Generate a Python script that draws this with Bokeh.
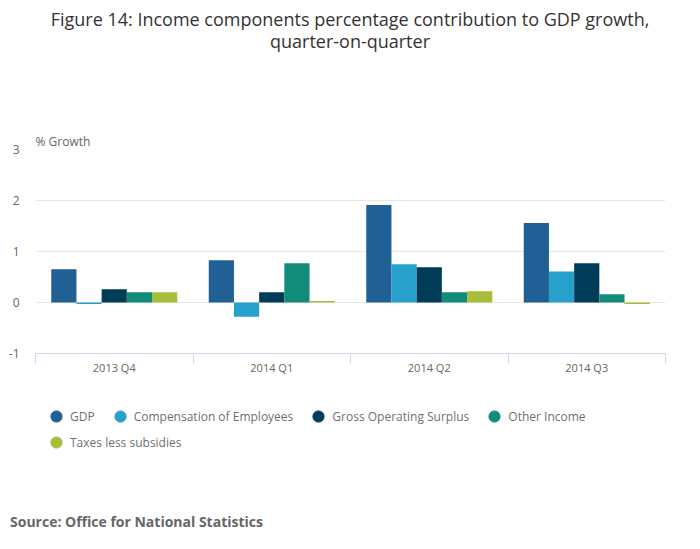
from bokeh.plotting import figure
from bokeh.layouts import column
from bokeh.models import (ColumnDataSource, Div, FixedTicker, Legend,
                          LegendItem, Range1d, Title)
from bokeh.transform import dodge
from bokeh.embed import file_html
from bokeh.resources import INLINE

# data
quarters = ["2013 Q4", "2014 Q1", "2014 Q2", "2014 Q3"]
gdp = [0.65, 0.83, 1.91, 1.56]
compensation = [-0.03, -0.28, 0.75, 0.61]
operating_surplus = [0.26, 0.20, 0.69, 0.77]
other_income = [0.20, 0.77, 0.20, 0.16]
taxes = [0.20, 0.03, 0.22, -0.03]
y_ticks = [-1, 0, 1, 2, 3]

series = [
    ("gdp", "GDP", "#206095"),
    ("compensation", "Compensation of Employees", "#27a0cc"),
    ("operating_surplus", "Gross Operating Surplus", "#003c57"),
    ("other_income", "Other Income", "#118c7b"),
    ("taxes", "Taxes less subsidies", "#a8bd3a"),
]

FONT = "Open Sans"
W = 700
centers = [i + 0.5 for i in range(len(quarters))]
source = ColumnDataSource(data=dict(
    x=centers, gdp=gdp, compensation=compensation,
    operating_surplus=operating_surplus, other_income=other_income,
    taxes=taxes,
))

title = Div(
    text="Figure 14: Income components percentage contribution to GDP growth,"
         "<br>quarter-on-quarter",
    width=W, height=60, margin=(0, 0, 0, 0),
    styles={"font-family": FONT, "font-size": "18px", "color": "#333333",
            "text-align": "center", "line-height": "22px",
            "padding-top": "8px", "width": f"{W}px"},
)

chart = figure(
    width=W, height=323,
    x_range=Range1d(0, len(quarters)),
    y_range=Range1d(min(y_ticks), max(y_ticks)),
    output_backend="svg", toolbar_location=None,
    min_border_left=35, min_border_right=35,
    min_border_top=89, min_border_bottom=30,
    margin=(0, 0, 0, 0),
)
chart.outline_line_color = None
chart.add_layout(Title(text="% Growth", align="left", standoff=-1,
                       text_font=FONT, text_font_size="12px",
                       text_font_style="normal", text_color="#666666"),
                 "above")

bar_w = 0.16
for i, (col, name, color) in enumerate(series):
    chart.vbar(x=dodge("x", (i - 2) * bar_w, range=chart.x_range), top=col,
               bottom=0, width=bar_w, fill_color=color, line_color=None,
               source=source)

# x axis: labels at the centres, separators between quarters
chart.xaxis.ticker = FixedTicker(ticks=centers,
                                 minor_ticks=list(range(len(quarters) + 1)))
chart.xaxis.major_label_overrides = {c: q for c, q in zip(centers, quarters)}
chart.xaxis.axis_line_color = "#ccd6eb"
chart.xaxis.major_tick_line_color = None
chart.xaxis.major_tick_out = 0
chart.xaxis.major_tick_in = 0
chart.xaxis.minor_tick_line_color = "#ccd6eb"
chart.xaxis.minor_tick_in = 0
chart.xaxis.minor_tick_out = 10
chart.xaxis.major_label_standoff = -4
chart.xaxis.major_label_text_font = FONT
chart.xaxis.major_label_text_font_size = "11px"
chart.xaxis.major_label_text_color = "#666666"
chart.xgrid.grid_line_color = None

chart.yaxis.ticker = FixedTicker(ticks=y_ticks)
chart.yaxis.major_label_overrides = {t: str(t) for t in y_ticks}
chart.yaxis.axis_line_color = None
chart.yaxis.major_tick_line_color = None
chart.yaxis.major_tick_out = 0
chart.yaxis.major_tick_in = 0
chart.yaxis.minor_tick_line_color = None
chart.yaxis.major_label_standoff = 16
chart.yaxis.major_label_text_font = FONT
chart.yaxis.major_label_text_font_size = "12px"
chart.yaxis.major_label_text_color = "#666666"
chart.ygrid.grid_line_color = "#e6e6e6"

# legend strip: its own small figure (the column lines its frame up with
# the chart's); the series sit far outside its y range, only the key shows
key = figure(
    width=W, height=80, x_range=Range1d(0, 1), y_range=Range1d(100, 101),
    x_axis_type=None, y_axis_type=None,
    output_backend="svg", toolbar_location=None,
    min_border=0, margin=(0, 0, 0, 0),
)
key.outline_line_color = None
key.grid.visible = False

items = []
for col, name, color in series:
    r = key.scatter(x="x", y=col, source=source, marker="circle", size=12,
                    fill_color=color, line_color=color)
    items.append(LegendItem(label=name, renderers=[r]))


def make_legend(row, y):
    key.add_layout(Legend(
        items=row, location=(7, y), orientation="horizontal",
        glyph_width=28, glyph_height=30, label_standoff=0,
        spacing=11, padding=0, margin=0,
        border_line_color=None, background_fill_alpha=0,
        label_text_font=FONT, label_text_font_size="12px",
        label_text_color="#707070"))


make_legend(items[:4], 32)
make_legend(items[4:], 6)

note = Div(
    text="Source: Office for National Statistics",
    width=W, height=86, margin=(0, 0, 0, 0),
    styles={"font-family": FONT, "font-size": "14px", "color": "#666666",
            "font-weight": "bold", "line-height": "20px",
            "padding-top": "49px", "padding-left": "10px"},
)

p = column(title, chart, key, note, spacing=0)
open("out.html", "w").write(file_html(p, INLINE))
